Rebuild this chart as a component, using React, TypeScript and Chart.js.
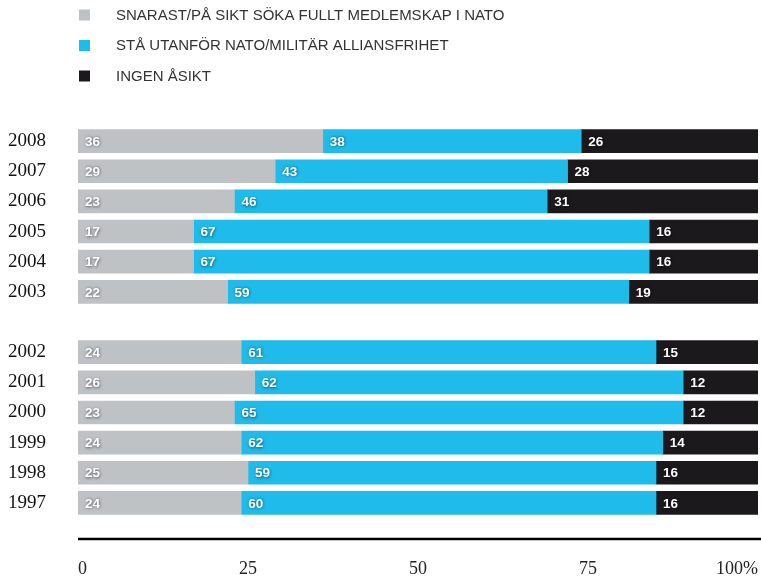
import React, { useEffect, useRef } from "react";
import { Chart, registerables } from "chart.js";

Chart.register(...registerables);

const years = ["2008", "2007", "2006", "2005", "2004", "2003", "", "2002", "2001", "2000", "1999", "1998", "1997"];
// printed values (labels on the segments)
const joinNatoLabels = [36, 29, 23, 17, 17, 22, null, 24, 26, 23, 24, 25, 24];
const stayOutsideLabels = [38, 43, 46, 67, 67, 59, null, 61, 62, 65, 62, 59, 60];
const noOpinionLabels = [26, 28, 31, 16, 16, 19, null, 15, 12, 12, 14, 16, 16];
// segment lengths as drawn in the picture
const joinNato = [36, 29, 23, 17, 17, 22, null, 24, 26, 23, 24, 25, 24];
const stayOutside = [38, 43, 46, 67, 67, 59, null, 61, 63, 66, 62, 60, 61];
const noOpinion = [26, 28, 31, 16, 16, 19, null, 15, 11, 11, 14, 15, 15];
const seriesLabels = [
  "SNARAST/PÅ SIKT SÖKA FULLT MEDLEMSKAP I NATO",
  "STÅ UTANFÖR NATO/MILITÄR ALLIANSFRIHET",
  "INGEN ÅSIKT",
];
const seriesColors = ["#bfc2c5", "#1fbbea", "#1c191d"];
const xTicks = [0, 25, 50, 75, 100];

const legendPlugin = {
  id: "customLegend",
  afterDraw(chart: any) {
    const ctx = chart.ctx;
    ctx.save();
    chart.data.datasets.forEach((ds: any, i: number) => {
      const cy = 15 + i * 30.5;
      ctx.fillStyle = ds.backgroundColor;
      ctx.fillRect(79, cy - 5.5, 11, 11);
      ctx.fillStyle = "#333";
      ctx.font = "15px 'Liberation Sans', Arial, sans-serif";
      ctx.textBaseline = "middle";
      ctx.textAlign = "left";
      ctx.fillText(ds.label, 116, cy + 0.5);
    });
    ctx.restore();
  },
};

const valueLabelPlugin = {
  id: "valueLabels",
  afterDatasetsDraw(chart: any) {
    const ctx = chart.ctx;
    ctx.save();
    ctx.font = "bold 13.5px 'Liberation Sans', Arial, sans-serif";
    ctx.textBaseline = "middle";
    ctx.textAlign = "left";
    ctx.fillStyle = "#ffffff";
    ctx.shadowColor = "rgba(0,0,0,0.55)";
    ctx.shadowBlur = 3;
    ctx.shadowOffsetX = 0.5;
    ctx.shadowOffsetY = 0.5;
    chart.data.datasets.forEach((ds: any, di: number) => {
      const meta = chart.getDatasetMeta(di);
      meta.data.forEach((el: any, idx: number) => {
        const v = ds.valueLabels[idx];
        if (v === null || v === undefined) return;
        const start = Math.min(el.x, el.base);
        ctx.fillText(String(v), start + 7, el.y + 1);
      });
    });
    ctx.restore();
  },
};

const axisLinePlugin = {
  id: "axisLine",
  afterDraw(chart: any) {
    const ctx = chart.ctx;
    const xs = chart.scales.x;
    ctx.save();
    ctx.strokeStyle = "#000";
    ctx.lineWidth = 2.5;
    ctx.beginPath();
    const y = xs.top + 21;
    ctx.moveTo(chart.chartArea.left, y);
    ctx.lineTo(chart.width, y);
    ctx.stroke();
    ctx.restore();
  },
};

export default function App() {
  const ref = useRef<HTMLCanvasElement | null>(null);
  useEffect(() => {
    document.body.style.margin = "0";
    const canvas = ref.current!;
    const chart = new Chart(canvas, {
      type: "bar",
      data: {
        labels: years,
        datasets: [
          { label: seriesLabels[0], data: joinNato, valueLabels: joinNatoLabels, backgroundColor: seriesColors[0] },
          { label: seriesLabels[1], data: stayOutside, valueLabels: stayOutsideLabels, backgroundColor: seriesColors[1] },
          { label: seriesLabels[2], data: noOpinion, valueLabels: noOpinionLabels, backgroundColor: seriesColors[2] },
        ] as any,
      },
      options: {
        indexAxis: "y",
        animation: false,
        responsive: false,
        maintainAspectRatio: false,
        layout: { padding: { top: 126, left: 8, right: 3, bottom: 0 } },
        datasets: { bar: { barThickness: 23, borderWidth: 0 } } as any,
        plugins: { legend: { display: false }, tooltip: { enabled: false } },
        scales: {
          x: {
            stacked: true,
            min: 0,
            max: 100,
            grid: { display: false },
            border: { display: false },
            afterBuildTicks: (scale: any) => {
              scale.ticks = xTicks.map((v) => ({ value: v }));
            },
            afterFit: (scale: any) => {
              scale.height = 59;
              scale.paddingLeft = 0;
              scale.paddingRight = 0;
            },
            ticks: {
              align: "inner",
              padding: 32,
              color: "#222",
              maxRotation: 0,
              font: { family: "'Liberation Serif', 'DejaVu Serif', serif", size: 18 },
              callback: (v: any) => (Number(v) === 100 ? "100%" : String(v)),
            },
          },
          y: {
            stacked: true,
            grid: { display: false },
            border: { display: false },
            afterFit: (scale: any) => {
              scale.width = 70;
            },
            ticks: {
              crossAlign: "far",
              padding: 0,
              color: "#111",
              autoSkip: false,
              font: { family: "'Liberation Serif', 'DejaVu Serif', serif", size: 19 },
            },
          },
        },
      } as any,
      plugins: [legendPlugin, valueLabelPlugin, axisLinePlugin],
    });
    return () => chart.destroy();
  }, []);
  return <canvas ref={ref} width={761} height={577} style={{ display: "block" }} />;
}
